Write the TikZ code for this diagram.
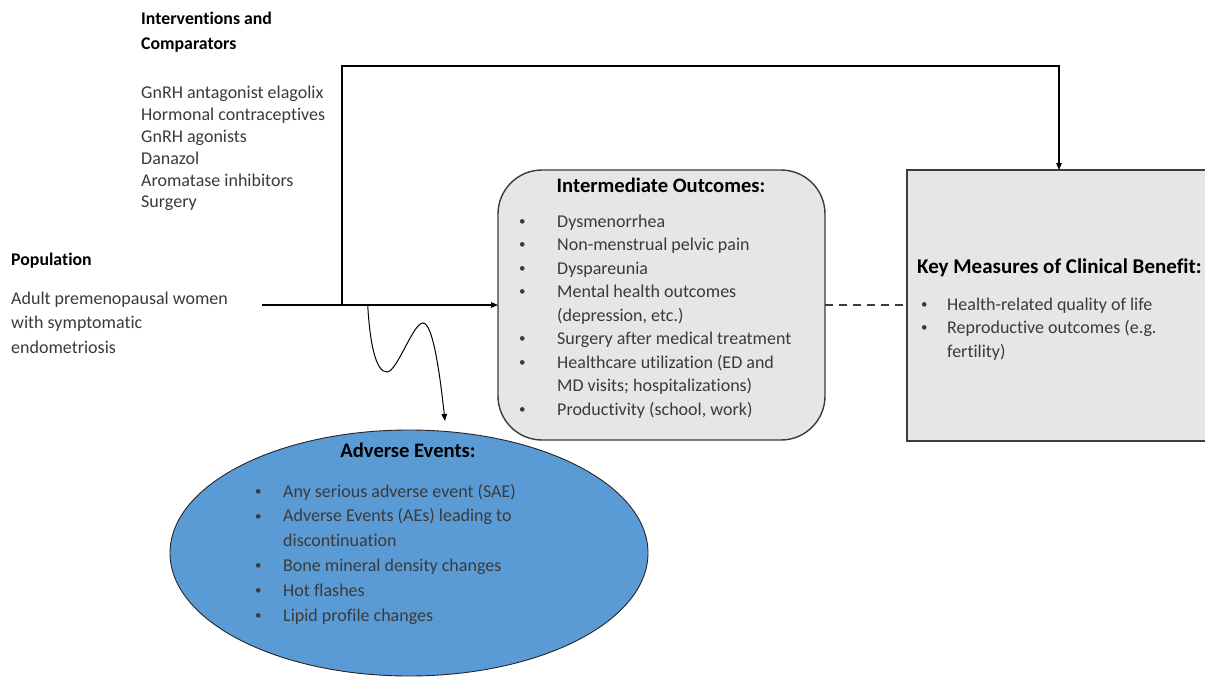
\documentclass[tikz,border=0pt]{standalone}
\usepackage{fontspec}
\setmainfont{Carlito}[Ligatures={NoCommon}]
\usetikzlibrary{arrows.meta,shapes.geometric}
\definecolor{boxgray}{HTML}{E6E6E6}
\definecolor{aeblue}{HTML}{5B9BD5}
\definecolor{txt}{HTML}{3A3A3A}
\definecolor{edge}{HTML}{3C3C3C}
\newcommand\smbul{\raisebox{1.6pt}{\fontsize{13}{13}\selectfont\textbullet}}
\begin{document}
\begin{tikzpicture}[x=1pt,y=-1pt,
  body/.style={inner sep=0pt, anchor=base west, text=txt, align=left},
  head/.style={inner sep=0pt, anchor=base west, text=black, font=\bfseries\fontsize{17.8}{21}\selectfont},
  boxtitle/.style={inner sep=0pt, anchor=base, text=black, font=\bfseries\fontsize{20.6}{24}\selectfont},
  conn/.style={draw=black, line width=1.1pt},
  tip/.style={-{Triangle[length=7pt,width=5.5pt]}}
]
\useasboundingbox (0,0) rectangle (1205,677);
\clip (0,0) rectangle (1205,677);
\fill[white] (0,0) rectangle (1205,677);

% Adverse events ellipse
\node[ellipse, draw=black!85, line width=0.9pt, fill=aeblue, minimum width=478pt, minimum height=246pt, inner sep=0pt] (ae) at (409,553) {};

% Intermediate outcomes box
\draw[draw=edge, line width=1.4pt, fill=boxgray, rounded corners=44pt] (498,170) rectangle (825,440);
\coordinate (io-w) at (498,305);
\coordinate (io-e) at (825,305);

% Key measures box
\draw[draw=edge, line width=1.4pt, fill=boxgray] (907,170) rectangle (1215,441);
\coordinate (km-w) at (907,305);
\coordinate (km-n) at (1059,170);

% Interventions
\node[head] (int1) at (141,25) {Interventions and};
\node[head] (int2) at (141,50) {Comparators};
\node[body, font=\fontsize{18}{21.8}\selectfont] (intlist) at (141,99)
  {\begin{tabular}[t]{@{}l@{}}GnRH antagonist elagolix\\Hormonal contraceptives\\GnRH agonists\\Danazol\\Aromatase inhibitors\\Surgery\end{tabular}};

% Population
\node[head] (pop) at (11,265) {Population};
\node[body, font=\fontsize{18}{24.5}\selectfont] (poplist) at (11,304)
  {\begin{tabular}[t]{@{}l@{}}Adult premenopausal women\\with symptomatic\\endometriosis\end{tabular}};

% Intermediate outcomes text
\node[boxtitle] (iot) at (661,192) {Intermediate Outcomes:};
\node[body, font=\fontsize{18}{23.5}\selectfont] (iolist) at (519,227)
  {\begin{tabular}[t]{@{}p{38pt}@{}l@{}}
  \smbul & Dysmenorrhea\\
  \smbul & Non-menstrual pelvic pain\\
  \smbul & Dyspareunia\\
  \smbul & Mental health outcomes\\
   & (depression, etc.)\\
  \smbul & Surgery after medical treatment\\
  \smbul & Healthcare utilization (ED and\\
   & MD visits; hospitalizations)\\
  \smbul & Productivity (school, work)
  \end{tabular}};

% Key measures text
\node[inner sep=0pt, anchor=base west, font=\bfseries\fontsize{21}{25}\selectfont] (kmt) at (917,273) {Key Measures of Clinical Benefit:};
\node[body, font=\fontsize{18}{23.5}\selectfont] (kmlist) at (921,310)
  {\begin{tabular}[t]{@{}p{26pt}@{}l@{}}
  \smbul & Health-related quality of life\\
  \smbul & Reproductive outcomes (e.g.\\
   & fertility)
  \end{tabular}};

% Adverse events text
\node[boxtitle] (aet) at (408,457) {Adverse Events:};
\node[body, font=\fontsize{18}{24.8}\selectfont] (aelist) at (255,497)
  {\begin{tabular}[t]{@{}p{28pt}@{}l@{}}
  \smbul & Any serious adverse event (SAE)\\
  \smbul & Adverse Events (AEs) leading to\\
   & discontinuation\\
  \smbul & Bone mineral density changes\\
  \smbul & Hot flashes\\
  \smbul & Lipid profile changes
  \end{tabular}};

% Connectors
\coordinate (popend) at (262,305);
\coordinate (branch) at (342,305);
\coordinate (topL) at (342,66);
\coordinate (topR) at (1059,66);
\coordinate (wavestart) at (367.7,305);
\coordinate (trough) at (387,372);
\coordinate (peak) at (423,323);
\coordinate (aetip) at (445,421);

\draw[conn, tip] (popend) -- (io-w);
\draw[conn, tip] (branch) -- (topL) -- (topR) -- (km-n);
\draw[conn, tip, line width=1pt] (wavestart) .. controls (370,345) and (376,372) .. (trough)
  .. controls (397,372) and (413,323) .. (peak)
  .. controls (433,323) and (440,375) .. (aetip);
\draw[draw=edge, line width=1.5pt, dash pattern=on 8pt off 6pt] (io-e) -- (km-w);
\end{tikzpicture}
\end{document}
